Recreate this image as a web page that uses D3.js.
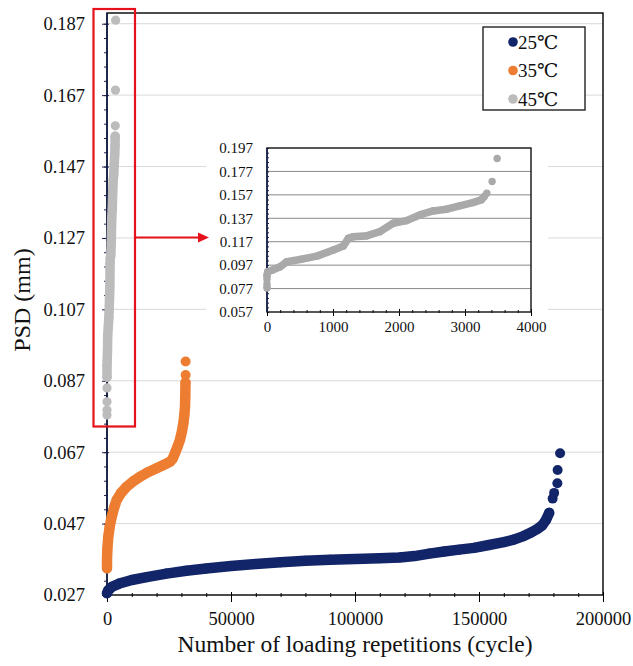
<!DOCTYPE html>
<html>
<head>
<meta charset="utf-8">
<script src="https://cdn.jsdelivr.net/npm/d3@7"></script>
<style>
  html, body { margin: 0; padding: 0; background: #fff; }
  svg { display: block; }
  svg text { font-family: "Liberation Serif", "Tinos", "Times New Roman", "DejaVu Serif", serif; fill: #111; }
</style>
</head>
<body>
<svg id="chart" width="633" height="666"></svg>
<script>
// ---- Data: permanent settlement (PSD) vs. loading repetitions ----
const seriesNames = ["25℃", "35℃", "45℃"];
const seriesColors = ["#132569", "#ed7d31", "#bcbcbc"];

// 25 ℃ – continuous band of points, then the last few scattered points
const cycles25 = [0, 500, 2000, 5000, 10000, 16000, 24000, 32000, 40000, 50000, 60000, 70000,
  80000, 90000, 100000, 110000, 118000, 124000, 130000, 136000, 142000, 148000, 154000,
  160000, 164000, 168000, 171000, 173500, 175500, 177000, 178300];
const psd25 = [0.0275, 0.0283, 0.0293, 0.0302, 0.0312, 0.0320, 0.0330, 0.0338, 0.0344, 0.0351,
  0.0357, 0.0362, 0.0366, 0.0369, 0.0371, 0.0373, 0.0375, 0.0379, 0.0386, 0.0392, 0.0397,
  0.0402, 0.0410, 0.0418, 0.0425, 0.0435, 0.0445, 0.0455, 0.0465, 0.0480, 0.0500];
const tailCycles25 = [179700, 180300, 181600, 181700, 182700];
const tailPsd25 = [0.0540, 0.0556, 0.0583, 0.0620, 0.0667];

// 35 ℃
const cycles35 = [0, 0, 150, 520, 1100, 1900, 2800, 3900, 5700, 7900, 10500, 13300, 16500,
  20000, 23000, 25400, 26500, 27400, 28400, 29400, 30200, 30800, 31200, 31450, 31550, 31650];
const psd35 = [0.0345, 0.0370, 0.0400, 0.0433, 0.0462, 0.0489, 0.0513, 0.0536, 0.0556, 0.0573,
  0.0588, 0.0601, 0.0614, 0.0625, 0.0635, 0.0643, 0.0652, 0.0667, 0.0685, 0.0704, 0.0728,
  0.0751, 0.0775, 0.0797, 0.0825, 0.0865];
const tailCycles35 = [31700, 31700];
const tailPsd35 = [0.0886, 0.0924];

// 45 ℃
const cycles45 = [0, 10, 75, 200, 300, 500, 755, 1006, 1157, 1233, 1308, 1509, 1711, 1912,
  2113, 2314, 2516, 2717, 2918, 3119, 3245, 3290];
const psd45 = [0.0880, 0.0913, 0.0927, 0.0956, 0.0999, 0.1019, 0.1047, 0.1099, 0.1133, 0.1199,
  0.1213, 0.1220, 0.1256, 0.1327, 0.1350, 0.1399, 0.1433, 0.1447, 0.1476, 0.1504, 0.1527, 0.1555];
const headCycles45 = [0, 0, 0, 0];
const headPsd45 = [0.0774, 0.0788, 0.0811, 0.0850];
const tailCycles45 = [3331, 3411, 3487];
const tailPsd45 = [0.1584, 0.1684, 0.1880];

// Axis ticks
const yTickValues = [0.027, 0.047, 0.067, 0.087, 0.107, 0.127, 0.147, 0.167, 0.187];
const xTickValues = [0, 50000, 100000, 150000, 200000];
const insetYTickValues = [0.057, 0.077, 0.097, 0.117, 0.137, 0.157, 0.177, 0.197];
const insetXTickValues = [0, 1000, 2000, 3000, 4000];

const xTitle = "Number of loading repetitions (cycle)";
const yTitle = "PSD (mm)";

const SERIF = "'Liberation Serif', 'Tinos', 'Times New Roman', 'DejaVu Serif', serif";

// ---- Layout ----
const svg = d3.select("#chart");
svg.append("rect").attr("width", 633).attr("height", 666).attr("fill", "#fff");

const x = d3.scaleLinear().domain([0, 200000]).range([107, 603]);
const y = d3.scaleLinear().domain([0.027, 0.19]).range([595, 13]);

const fmtY = d3.format(".3f");
const fmtX = d3.format("d");

// horizontal gridlines
svg.append("g").selectAll("line")
  .data(yTickValues.slice(1))
  .join("line")
  .attr("x1", x.range()[0]).attr("x2", x.range()[1])
  .attr("y1", d => y(d)).attr("y2", d => y(d))
  .attr("stroke", "#d9d9d9").attr("stroke-width", 1);

// y axis: minor + major ticks
const yMinor = d3.range(0, 41).map(i => 0.027 + i * 0.004).filter(v => v <= 0.19);
const gyMinor = svg.append("g").attr("transform", `translate(${x(0)},0)`)
  .call(d3.axisLeft(y).tickValues(yMinor).tickFormat("").tickSize(3).tickSizeOuter(0));
gyMinor.select(".domain").remove();
gyMinor.selectAll(".tick line").attr("stroke", "#1b2450").attr("x1", 1).attr("x2", -3);

const gy = svg.append("g").attr("transform", `translate(${x(0)},0)`)
  .call(d3.axisLeft(y).tickValues(yTickValues).tickFormat(fmtY).tickSize(5).tickPadding(17).tickSizeOuter(0));
gy.attr("font-family", SERIF);
gy.select(".domain").remove();
gy.selectAll(".tick line").attr("stroke", "#1b2450").attr("x1", 2).attr("x2", -5);
gy.selectAll(".tick text").attr("font-size", 18.5).attr("fill", "#111");

// x axis: minor + major ticks
const xMinor = d3.range(0, 21).map(i => i * 10000);
const gxMinor = svg.append("g").attr("transform", `translate(0,${y(0.027)})`)
  .call(d3.axisBottom(x).tickValues(xMinor).tickFormat("").tickSize(3).tickSizeOuter(0));
gxMinor.select(".domain").remove();
gxMinor.selectAll(".tick line").attr("stroke", "#000").attr("y1", -2).attr("y2", 2);

const gx = svg.append("g").attr("transform", `translate(0,${y(0.027)})`)
  .call(d3.axisBottom(x).tickValues(xTickValues).tickFormat(fmtX).tickSize(7).tickPadding(10).tickSizeOuter(0));
gx.attr("font-family", SERIF);
gx.select(".domain").remove();
gx.selectAll(".tick line").attr("stroke", "#000").attr("y1", -3).attr("y2", 7);
gx.selectAll(".tick text").attr("font-size", 18.5).attr("fill", "#111");

// plot frame
svg.append("rect")
  .attr("x", x(0)).attr("y", y(0.19))
  .attr("width", x(200000) - x(0)).attr("height", y(0.027) - y(0.19))
  .attr("fill", "none").attr("stroke", "#000").attr("stroke-width", 1.4);
svg.append("line")
  .attr("x1", x(0)).attr("x2", x(0)).attr("y1", y(0.19)).attr("y2", y(0.027))
  .attr("stroke", "#14204a").attr("stroke-width", 1.6);

// axis titles
svg.append("text")
  .attr("x", (x.range()[0] + x.range()[1]) / 2).attr("y", 652)
  .attr("text-anchor", "middle").attr("font-size", 23.5).attr("font-family", SERIF).text(xTitle);
svg.append("text")
  .attr("transform", "translate(22,300) rotate(-90)")
  .attr("text-anchor", "middle").attr("dominant-baseline", "central")
  .attr("font-size", 24).attr("font-family", SERIF).text(yTitle);

// ---- Series drawing: dense runs as a band of markers, loose points as single markers ----
function drawSeries(g, sx, sy, runs, loose, color, r, band) {
  const line = d3.line().x(d => sx(d[0])).y(d => sy(d[1])).curve(d3.curveLinear);
  runs.forEach(run => {
    const pts = d3.zip(run[0], run[1]);
    g.append("path").datum(pts)
      .attr("d", line)
      .attr("fill", "none").attr("stroke", color)
      .attr("stroke-width", band)
      .attr("stroke-linecap", "round").attr("stroke-linejoin", "round");
    g.append("g").selectAll("circle").data(pts).join("circle")
      .attr("cx", d => sx(d[0])).attr("cy", d => sy(d[1])).attr("r", r).attr("fill", color);
  });
  loose.forEach(set => {
    g.append("g").selectAll("circle").data(d3.zip(set[0], set[1])).join("circle")
      .attr("cx", d => sx(d[0])).attr("cy", d => sy(d[1])).attr("r", r).attr("fill", color);
  });
}

const gData = svg.append("g");
drawSeries(gData, x, y, [[cycles25, psd25]], [[tailCycles25, tailPsd25]], seriesColors[0], 5, 10.5);
drawSeries(gData, x, y, [[cycles35, psd35]], [[tailCycles35, tailPsd35]], seriesColors[1], 5, 10.5);
drawSeries(gData, x, y, [[cycles45, psd45]], [[headCycles45, headPsd45], [tailCycles45, tailPsd45]], seriesColors[2], 4.6, 9.5);

// ---- Legend ----
const gLeg = svg.append("g").attr("font-family", SERIF);
gLeg.append("rect").attr("x", 483).attr("y", 27).attr("width", 102).attr("height", 83)
  .attr("fill", "#fff").attr("stroke", "#222").attr("stroke-width", 1.4);
seriesNames.forEach((name, i) => {
  const cy = 42 + i * 28.5;
  gLeg.append("circle").attr("cx", 513).attr("cy", cy).attr("r", 4.8).attr("fill", seriesColors[i]);
  gLeg.append("text").attr("x", 518).attr("y", cy).attr("dominant-baseline", "central")
    .attr("font-size", 19).text(name);
});

// ---- Zoomed view of the 45 ℃ series ----
const ix = d3.scaleLinear().domain([0, 4000]).range([267, 531]);
const iy = d3.scaleLinear().domain([0.057, 0.197]).range([312, 148]);
const gIn = svg.append("g");
gIn.append("rect").attr("x", 206).attr("y", 136).attr("width", 342).attr("height", 198).attr("fill", "#fff");

gIn.append("g").selectAll("line")
  .data(insetYTickValues.slice(1, -1))
  .join("line")
  .attr("x1", ix.range()[0]).attr("x2", ix.range()[1])
  .attr("y1", d => iy(d)).attr("y2", d => iy(d))
  .attr("stroke", "#8a8a8a").attr("stroke-width", 1);

const iyMinor = d3.range(0, 36).map(i => 0.057 + i * 0.004).filter(v => v <= 0.1971);
const giyMinor = gIn.append("g").attr("transform", `translate(${ix(0)},0)`)
  .call(d3.axisRight(iy).tickValues(iyMinor).tickFormat("").tickSize(2).tickSizeOuter(0));
giyMinor.select(".domain").remove();
giyMinor.selectAll(".tick line").attr("stroke", "#1b2450");

const giy = gIn.append("g").attr("transform", `translate(${ix(0)},0)`)
  .call(d3.axisLeft(iy).tickValues(insetYTickValues).tickFormat(fmtY).tickSize(0).tickPadding(14).tickSizeOuter(0));
giy.attr("font-family", SERIF);
giy.select(".domain").remove();
giy.selectAll(".tick text").attr("font-size", 15).attr("fill", "#111");

const ixMinor = d3.range(0, 21).map(i => i * 200);
const gixMinor = gIn.append("g").attr("transform", `translate(0,${iy(0.057)})`)
  .call(d3.axisBottom(ix).tickValues(ixMinor).tickFormat("").tickSize(2).tickSizeOuter(0));
gixMinor.select(".domain").remove();
gixMinor.selectAll(".tick line").attr("stroke", "#000").attr("y1", -2).attr("y2", 1);

const gix = gIn.append("g").attr("transform", `translate(0,${iy(0.057)})`)
  .call(d3.axisBottom(ix).tickValues(insetXTickValues).tickFormat(fmtX).tickSize(4).tickPadding(5).tickSizeOuter(0));
gix.attr("font-family", SERIF);
gix.select(".domain").remove();
gix.selectAll(".tick line").attr("stroke", "#000").attr("y1", -3).attr("y2", 4);
gix.selectAll(".tick text").attr("font-size", 15).attr("fill", "#111");

gIn.append("rect")
  .attr("x", ix(0)).attr("y", iy(0.197))
  .attr("width", ix(4000) - ix(0)).attr("height", iy(0.057) - iy(0.197))
  .attr("fill", "none").attr("stroke", "#111").attr("stroke-width", 1.4);
gIn.append("line").attr("x1", ix(0)).attr("x2", ix(0)).attr("y1", iy(0.197)).attr("y2", iy(0.057))
  .attr("stroke", "#1b2450").attr("stroke-width", 1.6);

const gInData = gIn.append("g");
drawSeries(gInData, ix, iy, [[cycles45, psd45]], [[headCycles45, headPsd45], [tailCycles45, tailPsd45]], "#a9a9a9", 3.7, 7.6);

// ---- Highlight box and arrow ----
svg.append("rect").attr("x", 93.5).attr("y", 9).attr("width", 41.5).attr("height", 417.5)
  .attr("fill", "none").attr("stroke", "#e5121b").attr("stroke-width", 2.2);
svg.append("line").attr("x1", 135).attr("x2", 200).attr("y1", 237.5).attr("y2", 237.5)
  .attr("stroke", "#e5121b").attr("stroke-width", 2);
svg.append("path").attr("d", "M198,232.5 L209,237.5 L198,242.5 Z").attr("fill", "#e5121b");
</script>
</body>
</html>
